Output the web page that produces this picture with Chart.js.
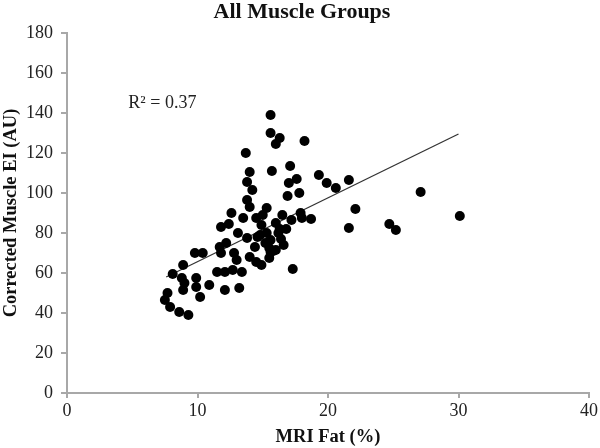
<!DOCTYPE html>
<html>
<head>
<meta charset="utf-8">
<script src="https://cdn.jsdelivr.net/npm/chart.js@4/dist/chart.umd.min.js"></script>
<style>
  html, body { margin: 0; padding: 0; background: #fff; }
  #wrap { width: 600px; height: 448px; position: relative; }
</style>
</head>
<body>
<div id="wrap"><canvas id="c" width="600" height="448"></canvas></div>
<script>
// ---- Data ----
const chartTitle = "All Muscle Groups";
const xAxisTitle = "MRI Fat (%)";
const yAxisTitle = "Corrected Muscle EI (AU)";
const r2Label = "R² = 0.37";
const r2LabelPos = [4.7, 145];

const xTicks = [0, 10, 20, 30, 40];
const yTicks = [0, 20, 40, 60, 80, 100, 120, 140, 160, 180];

const mriFat = [
  7.5, 7.7, 7.9, 8.6, 9.3, 8.1, 8.8, 8.9, 9.0, 8.9, 9.9, 9.9, 10.2,
  9.8, 10.4, 10.9, 12.1, 13.2, 11.5, 12.1, 12.7, 13.4,
  11.7, 11.8, 12.2, 12.8, 13.0, 14.0, 14.5, 14.9, 15.5, 15.6,
  11.8, 12.4, 13.1, 13.8, 14.9, 15.3, 15.6, 15.5, 16.6, 16.0, 16.2,
  12.6, 13.5, 14.5, 15.3, 16.5, 17.2, 17.9, 18.0, 18.7,
  13.8, 14.0, 13.8, 14.2, 14.0, 13.7, 15.7, 17.1, 17.0, 17.6, 16.9, 17.8,
  15.6, 15.6, 16.3, 16.0, 18.2, 19.3, 19.9, 20.6, 21.6,
  22.1, 21.6, 24.7, 25.2, 27.1, 30.1, 17.3,
  14.8, 15.2, 15.8, 14.4, 16.4, 16.8, 15.0, 16.0, 16.3, 14.6
];
const muscleEI = [
  46.5, 50, 43, 40.5, 39, 59.5, 57.5, 64, 55, 51.5, 57.5, 53, 48,
  70, 70, 54, 51.5, 52.5, 60.5, 60.5, 61.5, 60.5,
  73, 70, 75, 70, 66.5, 68, 65.5, 64, 67.5, 70.5,
  83, 84.5, 80, 77.5, 84, 80, 76.5, 72.5, 74, 71.5, 80,
  90, 87.5, 87.5, 92.5, 89, 86.5, 90, 87.5, 87,
  96.5, 93, 105.5, 101.5, 110.5, 120, 111, 113.5, 105, 107, 98.5, 100,
  139, 130, 127.5, 124.5, 126, 109, 105, 102.5, 106.5,
  92, 82.5, 84.5, 81.5, 100.5, 88.5, 62,
  79, 75, 71, 73, 77, 82, 89, 85, 82, 78
];

// Linear trend line end points
const trendX = [7.6, 30.0];
const trendY = [58, 129.5];

// ---- Build ----
const points = mriFat.map((x, i) => ({ x: x, y: muscleEI[i] }));
const trendPts = trendX.map((x, i) => ({ x: x, y: trendY[i] }));

const serif = "'Liberation Serif', 'Times New Roman', serif";
const axisGray = '#a8a8a8';

const overlayText = {
  id: 'overlayText',
  afterDraw(chart) {
    const ctx = chart.ctx;
    const xs = chart.scales.x, ys = chart.scales.y;
    ctx.save();
    ctx.fillStyle = '#111';
    ctx.font = "bold 22px " + serif;
    ctx.textAlign = 'center';
    ctx.textBaseline = 'middle';
    ctx.fillText(chartTitle, 302, 12);
    ctx.font = "18px " + serif;
    ctx.textAlign = 'left';
    ctx.fillStyle = '#222';
    ctx.fillText(r2Label, xs.getPixelForValue(r2LabelPos[0]), ys.getPixelForValue(r2LabelPos[1]));
    ctx.restore();
  }
};

new Chart(document.getElementById('c'), {
  type: 'scatter',
  data: {
    datasets: [
      {
        label: 'Muscle EI',
        data: points,
        backgroundColor: '#000',
        borderColor: '#000',
        pointRadius: 5,
        pointHoverRadius: 5,
        borderWidth: 0
      },
      {
        label: 'Linear trend',
        type: 'line',
        data: trendPts,
        borderColor: '#333',
        borderWidth: 1.3,
        pointRadius: 0,
        fill: false,
        tension: 0
      }
    ]
  },
  options: {
    responsive: false,
    animation: false,
    events: [],
    layout: { padding: { top: 33, right: 9, bottom: 0, left: 0 } },
    plugins: {
      legend: { display: false },
      tooltip: { enabled: false },
      title: { display: false }
    },
    scales: {
      x: {
        type: 'linear',
        min: 0, max: 40,
        afterBuildTicks: (s) => { s.ticks = xTicks.map(v => ({ value: v })); },
        afterFit: (s) => { s.height = 55; },
        border: { display: true, color: axisGray, width: 2 },
        grid: { display: true, drawOnChartArea: false, drawTicks: true, tickLength: 5, color: axisGray, lineWidth: 2 },
        ticks: { color: '#222', font: { family: serif, size: 18 }, padding: 2, maxRotation: 0 },
        title: { display: true, text: xAxisTitle, color: '#111', font: { family: serif, size: 18.5, weight: 'bold' }, padding: { top: 0, bottom: 0 } }
      },
      y: {
        type: 'linear',
        min: 0, max: 180,
        afterBuildTicks: (s) => { s.ticks = yTicks.map(v => ({ value: v })); },
        afterFit: (s) => { s.width = 67; },
        border: { display: true, color: axisGray, width: 2 },
        grid: { display: true, drawOnChartArea: false, drawTicks: true, tickLength: 6, color: axisGray, lineWidth: 2 },
        ticks: { color: '#222', font: { family: serif, size: 18 }, padding: 8 },
        title: { display: true, text: yAxisTitle, color: '#111', font: { family: serif, size: 18.5, weight: 'bold' }, padding: { top: 0, bottom: 0 } }
      }
    }
  },
  plugins: [overlayText]
});
</script>
</body>
</html>
